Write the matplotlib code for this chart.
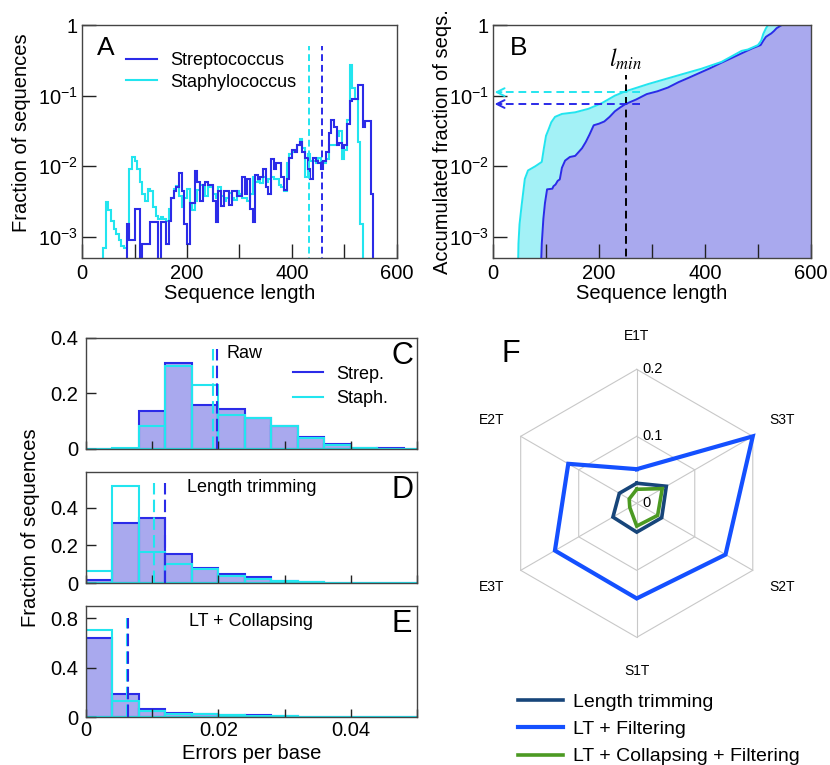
#!/usr/bin/env python3
"""
Read length / error statistics for Streptococcus and Staphylococcus
plus the error-rate radar chart (panels A-F).
"""

import numpy as np
import matplotlib
matplotlib.use('Agg')
import matplotlib.pyplot as plt
from matplotlib.lines import Line2D
from matplotlib.ticker import NullLocator

plt.rcParams['font.family'] = ['Liberation Sans', 'DejaVu Sans']
plt.rcParams['mathtext.default'] = 'regular'

# Colours
STREP_COLOR = '#2b2be8'
STAPH_COLOR = '#22e5ef'
STREP_FILL = '#a9a9ee'
STAPH_FILL = '#a3f1f6'
SPINE_COLOR = '#444444'
GRID_GRAY = '#c8c8c8'

# ---- Panel A: sequence length histogram (5 nt bins starting at 40) ----
LEN_BIN_START = 40
LEN_BIN_WIDTH = 5
STREP_LEN_FRAC = [
    0, 0, 0, 0, 0, 0, 0, 0, 0,                                  # 40-80
    1.5e-3, 9e-4, 9e-4, 2.5e-3, 2.5e-3, 0, 8e-4, 8e-4, 8e-4,   # 85-125
    1.6e-3, 1.6e-3, 1.6e-3, 0, 1.6e-3, 1.6e-3, 8e-4, 1.7e-3,   # 130-165
    3.5e-3, 4.5e-3, 5e-3, 8e-3, 4.5e-3, 1.5e-3, 8e-4, 3e-3,    # 170-205
    3e-3, 8.5e-3, 6e-3, 3.2e-3, 5.5e-3, 6e-3, 5.5e-3, 5.5e-3,  # 210-245
    3.2e-3, 1.6e-3, 4.5e-3, 2.7e-3, 4.5e-3, 4.5e-3, 2.8e-3,    # 250-280
    4.5e-3, 4.5e-3, 3.8e-3, 3.8e-3, 7e-3, 4e-3, 6.5e-3,        # 285-315
    2.5e-3, 1.6e-3, 7.5e-3, 6.5e-3, 7e-3, 9e-3, 5e-3, 4e-3,    # 320-355
    1.25e-2, 9e-3, 1.1e-2, 1.1e-2, 7e-3, 4.6e-3, 6.5e-3,       # 360-390
    1.3e-2, 1.7e-2, 1.6e-2, 2.0e-2, 2.2e-2, 1.6e-2, 1.3e-2,    # 395-425
    9e-3, 6.5e-3, 1.3e-2, 1.2e-2, 1.1e-2, 9e-3, 1.2e-2,        # 430-460
    1.6e-2, 3.0e-2, 4.5e-2, 3.6e-2, 2.0e-2, 2.1e-2, 1.8e-2,    # 465-495
    2.0e-2, 4.0e-2, 8.5e-2, 9.0e-2, 9.0e-2, 1.4e-1, 1.4e-1,    # 500-530
    3.6e-2, 4.4e-2, 4.4e-2, 4.0e-3, 0,                         # 535-555
]
STAPH_LEN_FRAC = [
    7e-4, 3.1e-3, 2.4e-3, 1.7e-3, 1.3e-3, 1.1e-3, 9e-4, 7.5e-4,  # 40-75
    7e-4, 1.0e-3, 9e-3, 1.35e-2, 1.2e-2, 9e-3, 6e-3, 4e-3,      # 80-115
    3.2e-3, 4.8e-3, 4.5e-3, 2.6e-3, 2.0e-3, 1.8e-3, 1.9e-3,     # 120-150
    1.8e-3, 1.7e-3, 2.5e-3, 3.5e-3, 4.8e-3, 5.2e-3, 3.8e-3,     # 155-185
    2.6e-3, 3.5e-3, 4.8e-3, 3.0e-3, 2.4e-3, 3.2e-3, 4.6e-3,     # 190-220
    5.5e-3, 5.0e-3, 3.8e-3, 5.0e-3, 5.2e-3, 4.0e-3, 3.5e-3,     # 225-255
    5.0e-3, 3.8e-3, 3.2e-3, 3.6e-3, 4.2e-3, 3.5e-3, 3.3e-3,     # 260-290
    4.5e-3, 4.0e-3, 3.6e-3, 3.6e-3, 3.2e-3, 4.0e-3, 7.0e-3,     # 295-325
    6.0e-3, 6.5e-3, 5.8e-3, 7.0e-3, 6.0e-3, 6.5e-3, 7.0e-3,     # 330-360
    6.5e-3, 6.5e-3, 5.5e-3, 5.0e-3, 4.5e-3, 1.1e-2, 1.5e-2,     # 365-395
    1.6e-2, 1.7e-2, 2.0e-2, 2.4e-2, 1.8e-2, 7.0e-3, 1.5e-2,     # 400-430
    1.2e-2, 1.2e-2, 1.1e-2, 1.3e-2, 1.2e-2, 1.1e-2, 1.26e-2,    # 435-465
    2.0e-2, 2.0e-2, 2.0e-2, 2.7e-2, 3.2e-2, 1.26e-2, 1.7e-2,    # 470-500
    4.5e-2, 2.7e-1, 1.3e-1, 9.0e-2, 2.2e-2, 1.5e-3,             # 505-530
    0, 0, 0, 0, 0,                                              # 535-555
]
STREP_LEN_MEAN = 458
STAPH_LEN_MEAN = 433
LEN_MEAN_TOP = 0.5

# ---- Panel B: accumulated fraction of sequences ----
STREP_CUM_X = [90, 92, 95, 98, 102, 112, 114, 118, 122, 126, 130, 136, 145,
               155, 162, 168, 175, 182, 190, 200, 210, 220, 230, 240, 250,
               270, 290, 310, 330, 350, 370, 390, 410, 430, 450, 470, 490,
               505, 510, 515, 520, 525, 530, 535, 540, 545, 600]
STREP_CUM_Y = [3e-4, 8e-4, 1.8e-3, 3e-3, 4.7e-3, 4.8e-3, 5.2e-3, 5.5e-3,
               6.2e-3, 6.5e-3, 9.5e-3, 1.2e-2, 1.35e-2, 1.4e-2, 1.6e-2,
               1.8e-2, 2.2e-2, 2.8e-2, 3.8e-2, 4.0e-2, 4.3e-2, 5.0e-2,
               6.0e-2, 6.8e-2, 7.6e-2, 8.8e-2, 0.105, 0.115, 0.13, 0.155,
               0.18, 0.21, 0.245, 0.29, 0.34, 0.4, 0.47, 0.52, 0.6, 0.68,
               0.72, 0.76, 0.82, 0.9, 0.95, 1.0, 1.0]
STAPH_CUM_X = [47, 48, 50, 54, 60, 66, 80, 92, 96, 100, 104, 110, 117, 130,
               155, 180, 205, 230, 250, 293, 356, 393, 431, 469, 481, 500,
               506, 510, 515, 519, 600]
STAPH_CUM_Y = [3e-4, 8e-4, 1.5e-3, 2.8e-3, 6.6e-3, 8.7e-3, 1.0e-2, 1.15e-2,
               1.8e-2, 2.7e-2, 3.2e-2, 4.2e-2, 5.0e-2, 5.5e-2, 5.8e-2,
               6.5e-2, 7.8e-2, 0.1, 0.115, 0.146, 0.2, 0.24, 0.3, 0.43,
               0.45, 0.52, 0.6, 0.75, 0.9, 1.0, 1.0]
LMIN = 250
LMIN_TOP = 0.195
STREP_AT_LMIN = 0.076
STAPH_AT_LMIN = 0.112
ARROW_TAIL_X = 278

# ---- Panels C-E: errors per base (bins of 0.004) ----
ERR_BIN_LEFT = [0.000, 0.004, 0.008, 0.012, 0.016, 0.020, 0.024,
                0.028, 0.032, 0.036, 0.040, 0.044, 0.048]
ERR_BIN_WIDTH = 0.004
RAW_STREP = [0.001, 0.001, 0.136, 0.31, 0.16, 0.144, 0.11, 0.082, 0.044,
             0.017, 0.004, 0.002, 0.001]
RAW_STAPH = [0.001, 0.002, 0.084, 0.298, 0.232, 0.124, 0.11, 0.082, 0.04,
             0.014, 0.005, 0.001, 0.001]
LT_STREP = [0.014, 0.317, 0.347, 0.153, 0.079, 0.048, 0.032, 0.009, 0.003,
            0.001, 0.0005, 0, 0]
LT_STAPH = [0.062, 0.516, 0.164, 0.102, 0.074, 0.039, 0.021, 0.012, 0.004,
            0.001, 0.001, 0, 0]
LTC_STREP = [0.644, 0.189, 0.065, 0.032, 0.022, 0.018, 0.016, 0.005, 0.003,
             0.001, 0.001, 0, 0]
LTC_STAPH = [0.706, 0.127, 0.051, 0.024, 0.027, 0.02, 0.012, 0.008, 0.004,
             0.001, 0.001, 0, 0]
ERR_MEANS = {  # (strep, staph, dashed line top)
    'Raw': (0.0198, 0.0192, 0.36),
    'Length trimming': (0.0119, 0.0103, 0.53),
    'LT + Collapsing': (0.0064, 0.0062, 0.80),
}

# ---- Panel F: radar ----
RADAR_AXES = ['E1T', 'S3T', 'S2T', 'S1T', 'E3T', 'E2T']
RADAR_LT = [0.030, 0.051, 0.043, 0.043, 0.041, 0.030]
RADAR_LT_FILT = [0.051, 0.200, 0.153, 0.142, 0.141, 0.118]
RADAR_LT_COLL_FILT = [0.021, 0.044, 0.036, 0.034, 0.012, 0.013]
RADAR_RINGS = [0.1, 0.2]


def style_axes(ax, length=10):
    for sp in ax.spines.values():
        sp.set_color(SPINE_COLOR)
        sp.set_linewidth(1.0)
    ax.tick_params(direction='in', length=length, width=1, color='#222222',
                   labelsize=14.5, top=False, right=False)


def log_seq_axis(ax):
    ax.set_yscale('log')
    ax.set_ylim(5e-4, 1)
    ax.set_yticks([1e-3, 1e-2, 1e-1, 1])
    ax.set_yticklabels([r'$10^{-3}$', r'$10^{-2}$', r'$10^{-1}$', '1'])
    ax.yaxis.set_minor_locator(NullLocator())
    ax.set_xlim(0, 600)
    ax.set_xticks([0, 100, 200, 300, 400, 500, 600])
    ax.set_xticklabels(['0', '', '200', '', '400', '', '600'])
    style_axes(ax)
    ax.tick_params(axis='y', pad=3)
    ax.tick_params(axis='x', pad=4)
    ax.set_xlabel('Sequence length', fontsize=14.5, va='top')
    ax.xaxis.set_label_coords(0.5, -0.112)


def draw_length_hist(ax):
    n = len(STREP_LEN_FRAC)
    edges = LEN_BIN_START + LEN_BIN_WIDTH * np.arange(n + 1)
    staph = np.where(np.array(STAPH_LEN_FRAC) > 0, STAPH_LEN_FRAC, 1e-6)
    strep = np.where(np.array(STREP_LEN_FRAC) > 0, STREP_LEN_FRAC, 1e-6)
    ax.stairs(staph, edges, baseline=1e-6, color=STAPH_COLOR, lw=1.5)
    ax.stairs(strep, edges, baseline=1e-6, color=STREP_COLOR, lw=1.5)
    ax.plot([STAPH_LEN_MEAN] * 2, [1e-4, LEN_MEAN_TOP], color=STAPH_COLOR,
            lw=1.4, dashes=(3.5, 2))
    ax.plot([STREP_LEN_MEAN] * 2, [1e-4, LEN_MEAN_TOP], color=STREP_COLOR,
            lw=1.4, dashes=(3.5, 2))
    log_seq_axis(ax)
    ax.set_ylabel('Fraction of sequences', fontsize=14.5)
    ax.yaxis.set_label_coords(-0.162, 0.54)
    ax.legend([Line2D([], [], color=STREP_COLOR, lw=1.5),
               Line2D([], [], color=STAPH_COLOR, lw=1.5)],
              ['Streptococcus', 'Staphylococcus'], loc='upper left',
              bbox_to_anchor=(0.117, 0.915), frameon=False, fontsize=13,
              handlelength=1.7, handletextpad=0.75, labelspacing=0.25,
              borderaxespad=0)
    ax.text(0.076, 0.903, 'A', transform=ax.transAxes, fontsize=19,
            ha='center', va='center')


def draw_cumulative(ax):
    ax.fill_between(STAPH_CUM_X, 1e-5, STAPH_CUM_Y, color=STAPH_FILL, lw=0)
    ax.fill_between(STREP_CUM_X, 1e-5, STREP_CUM_Y, color=STREP_FILL, lw=0)
    ax.plot(STREP_CUM_X, STREP_CUM_Y, color=STREP_COLOR, lw=1.4)
    ax.plot(STAPH_CUM_X, STAPH_CUM_Y, color=STAPH_COLOR, lw=1.4)
    ax.plot([LMIN, LMIN], [1e-4, LMIN_TOP], color='black', lw=1.4,
            dashes=(4, 2.5))
    for y, c in [(STAPH_AT_LMIN, STAPH_COLOR), (STREP_AT_LMIN, STREP_COLOR)]:
        ax.plot([ARROW_TAIL_X, 14], [y, y], color=c, lw=1.4, dashes=(4, 2.5))
        ax.annotate('', xy=(3, y), xytext=(16, y),
                    arrowprops=dict(arrowstyle='->', color=c, lw=1.4,
                                    mutation_scale=14, shrinkA=0, shrinkB=0))
    log_seq_axis(ax)
    ax.set_ylabel('Accumulated fraction of seqs.', fontsize=14.5)
    ax.yaxis.set_label_coords(-0.13, 0.5)
    ax.text(LMIN, 0.33, r'$\mathit{l}_{\mathit{min}}$', math_fontfamily='stix',
            fontsize=17, ha='center', va='center')
    ax.text(0.082, 0.903, 'B', transform=ax.transAxes, fontsize=19,
            ha='center', va='center')


def draw_error_hist(ax, strep, staph, title, letter, ymax, yticks,
                    ylabels, show_xlabels, title_x=0.5):
    ax.bar(ERR_BIN_LEFT, strep, width=ERR_BIN_WIDTH, align='edge',
           color=STREP_FILL, edgecolor=STREP_COLOR, lw=1.5)
    ax.bar(ERR_BIN_LEFT, staph, width=ERR_BIN_WIDTH, align='edge',
           fill=False, edgecolor=STAPH_COLOR, lw=1.5)
    m_strep, m_staph, top = ERR_MEANS[title]
    ax.plot([m_staph] * 2, [0, top], color=STAPH_COLOR, lw=1.5, dashes=(6, 2.5))
    ax.plot([m_strep] * 2, [0, top], color=STREP_COLOR, lw=1.5, dashes=(6, 2.5))
    ax.set_xlim(0, 0.05)
    ax.set_ylim(0, ymax)
    ax.set_yticks(yticks)
    ax.set_yticklabels(ylabels)
    ax.set_xticks([0, 0.01, 0.02, 0.03, 0.04, 0.05])
    if show_xlabels:
        ax.set_xticklabels(['0', '', '0.02', '', '0.04', ''])
    else:
        ax.set_xticklabels([])
    style_axes(ax, length=7)
    ax.tick_params(axis='y', pad=5.5)
    ax.tick_params(axis='x', pad=3, length=6)
    ax.text(title_x, 0.86, title, transform=ax.transAxes, fontsize=13,
            ha='center', va='center')
    ax.text(0.955, 0.84, letter, transform=ax.transAxes, fontsize=22,
            ha='center', va='center')


def draw_radar(fig):
    ax = fig.add_axes([0.6057, 0.1669, 0.3229, 0.3503], projection='polar')
    ax.set_theta_offset(np.pi / 2)
    ax.set_theta_direction(-1)
    angles = np.linspace(0, 2 * np.pi, len(RADAR_AXES), endpoint=False)
    closed = np.append(angles, angles[0])
    for r in RADAR_RINGS:
        ax.plot(closed, [r] * len(closed), color=GRID_GRAY, lw=0.8,
                clip_on=False)
    for a in angles:
        ax.plot([a, a], [0, RADAR_RINGS[-1]], color=GRID_GRAY, lw=0.8,
                clip_on=False)

    series = [
        ('Length trimming', RADAR_LT, '#17457a', 2.6),
        ('LT + Filtering', RADAR_LT_FILT, '#1450ff', 3.0),
        ('LT + Collapsing + Filtering', RADAR_LT_COLL_FILT, '#4c9a22', 2.6),
    ]
    handles = []
    for name, vals, color, lw in series:
        h, = ax.plot(closed, list(vals) + [vals[0]], color=color, lw=lw,
                     label=name, clip_on=False, solid_joinstyle='miter')
        handles.append(h)

    ax.set_ylim(0, 0.2)
    ax.axis('off')
    for a, name in zip(angles, RADAR_AXES):
        ax.text(a, 0.25, name, ha='center', va='center', fontsize=10)
    for r, lab in zip([0, 0.1, 0.2], ['0', '0.1', '0.2']):
        ax.annotate(lab, xy=(0, r), xytext=(4, 0), textcoords='offset points',
                    ha='left', va='center', fontsize=10.5)

    fig.legend(handles, [s[0] for s in series], loc='upper left',
               bbox_to_anchor=(0.615, 0.104), frameon=False, fontsize=14,
               handlelength=2.3, handletextpad=0.5, labelspacing=0.5,
               borderaxespad=0)
    fig.text(0.6157, 0.537, 'F', fontsize=22, ha='center', va='center')


def main():
    fig = plt.figure(figsize=(8.3, 7.65), dpi=100)

    ax_a = fig.add_axes([0.0988, 0.6627, 0.3795, 0.3046])
    draw_length_hist(ax_a)

    ax_b = fig.add_axes([0.594, 0.6627, 0.3831, 0.3046])
    draw_cumulative(ax_b)

    ax_c = fig.add_axes([0.1036, 0.4131, 0.3988, 0.1451])
    draw_error_hist(ax_c, RAW_STREP, RAW_STAPH, 'Raw', 'C', 0.4,
                    [0, 0.2, 0.4], ['0', '0.2', '0.4'], False, title_x=0.48)
    ax_c.legend([Line2D([], [], color=STREP_COLOR, lw=1.5),
                 Line2D([], [], color=STAPH_COLOR, lw=1.5)],
                ['Strep.', 'Staph.'], loc='upper left',
                bbox_to_anchor=(0.603, 0.815), frameon=False, fontsize=13,
                handlelength=1.67, handletextpad=0.75, labelspacing=0.4,
                borderaxespad=0)

    ax_d = fig.add_axes([0.1036, 0.2379, 0.3988, 0.1451])
    draw_error_hist(ax_d, LT_STREP, LT_STAPH, 'Length trimming', 'D', 0.59,
                    [0, 0.2, 0.4], ['0', '0.2', '0.4'], False)

    ax_e = fig.add_axes([0.1036, 0.0627, 0.3988, 0.1451])
    draw_error_hist(ax_e, LTC_STREP, LTC_STAPH, 'LT + Collapsing', 'E', 0.9,
                    [0, 0.4, 0.8], ['0', '0.4', '0.8'], True)
    ax_e.set_xlabel('Errors per base', fontsize=14.5, va='top')
    ax_e.xaxis.set_label_coords(0.5, -0.245)

    fig.text(0.037, 0.31, 'Fraction of sequences', rotation=90,
             fontsize=14.5, ha='center', va='center')

    draw_radar(fig)

    fig.savefig('out.png', dpi=100)


if __name__ == '__main__':
    main()
